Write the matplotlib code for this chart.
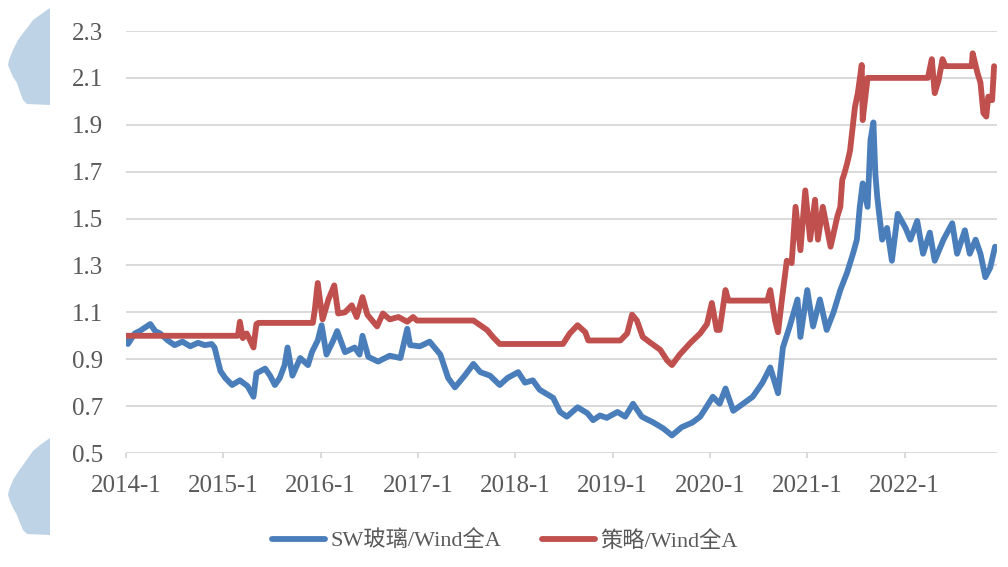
import matplotlib
matplotlib.use("Agg")
import matplotlib.pyplot as plt
from matplotlib.patches import Polygon

# ---- data ----
glass_t = [2014.00, 2014.02, 2014.09, 2014.14, 2014.25, 2014.30, 2014.35, 2014.43, 2014.50, 2014.58,
           2014.66, 2014.74, 2014.81, 2014.88, 2014.91, 2014.97, 2015.02, 2015.09, 2015.17, 2015.25,
           2015.31, 2015.34, 2015.43, 2015.48, 2015.53, 2015.58, 2015.63, 2015.66, 2015.71, 2015.79,
           2015.87, 2015.91, 2015.97, 2016.01, 2016.06, 2016.13, 2016.17, 2016.25, 2016.35, 2016.40,
           2016.43, 2016.49, 2016.59, 2016.71, 2016.82, 2016.89, 2016.92, 2017.02, 2017.12, 2017.23,
           2017.31, 2017.38, 2017.48, 2017.57, 2017.64, 2017.74, 2017.84, 2017.92, 2018.03, 2018.10,
           2018.18, 2018.25, 2018.39, 2018.46, 2018.53, 2018.64, 2018.74, 2018.80, 2018.87, 2018.94,
           2019.05, 2019.13, 2019.21, 2019.30, 2019.42, 2019.52, 2019.61, 2019.71, 2019.82, 2019.90,
           2019.97, 2020.03, 2020.10, 2020.16, 2020.24, 2020.34, 2020.44, 2020.54, 2020.62, 2020.70,
           2020.75, 2020.82, 2020.90, 2020.93, 2021.00, 2021.06, 2021.13, 2021.20, 2021.27, 2021.34,
           2021.41, 2021.47, 2021.51, 2021.54, 2021.57, 2021.62, 2021.65, 2021.68, 2021.70, 2021.72,
           2021.77, 2021.82, 2021.87, 2021.93, 2022.01, 2022.06, 2022.13, 2022.19, 2022.26, 2022.31,
           2022.40, 2022.49, 2022.54, 2022.62, 2022.67, 2022.73, 2022.78, 2022.83, 2022.88, 2022.93]
glass_v = [1.00, 0.965, 1.01, 1.02, 1.05, 1.02, 1.01, 0.98, 0.96, 0.975,
           0.955, 0.97, 0.96, 0.965, 0.95, 0.85, 0.82, 0.79, 0.81, 0.785,
           0.74, 0.84, 0.86, 0.83, 0.79, 0.82, 0.875, 0.95, 0.83, 0.905,
           0.875, 0.93, 0.98, 1.045, 0.92, 0.98, 1.02, 0.93, 0.95, 0.92,
           1.00, 0.91, 0.89, 0.915, 0.905, 1.03, 0.96, 0.955, 0.975, 0.92,
           0.82, 0.78, 0.83, 0.88, 0.845, 0.83, 0.79, 0.82, 0.845, 0.80,
           0.81, 0.77, 0.735, 0.675, 0.655, 0.695, 0.67, 0.64, 0.66, 0.65,
           0.675, 0.655, 0.71, 0.655, 0.63, 0.605, 0.575, 0.61, 0.63, 0.655,
           0.70, 0.74, 0.71, 0.775, 0.68, 0.71, 0.74, 0.80, 0.865, 0.755,
           0.95, 1.04, 1.155, 0.995, 1.195, 1.04, 1.155, 1.025, 1.10, 1.195,
           1.27, 1.35, 1.41, 1.55, 1.65, 1.55, 1.835, 1.91, 1.69, 1.59,
           1.41, 1.46, 1.32, 1.52, 1.46, 1.41, 1.49, 1.35, 1.44, 1.32,
           1.41, 1.48, 1.35, 1.45, 1.35, 1.41, 1.35, 1.25, 1.29, 1.38]

strat_t = [2014.00, 2015.02, 2015.15, 2015.17, 2015.20, 2015.24, 2015.27, 2015.31, 2015.34, 2015.36,
           2015.92, 2015.94, 2015.97, 2016.02, 2016.08, 2016.14, 2016.18, 2016.25, 2016.32, 2016.37,
           2016.43, 2016.48, 2016.58, 2016.64, 2016.71, 2016.80, 2016.89, 2016.95, 2016.99, 2017.57,
           2017.64, 2017.71, 2017.77, 2017.84, 2018.49, 2018.56, 2018.64, 2018.72, 2018.75, 2019.08,
           2019.15, 2019.20, 2019.25, 2019.31, 2019.39, 2019.49, 2019.56, 2019.61, 2019.69, 2019.80,
           2019.90, 2019.97, 2020.02, 2020.07, 2020.10, 2020.16, 2020.19, 2020.59, 2020.62, 2020.67,
           2020.70, 2020.74, 2020.79, 2020.84, 2020.88, 2020.93, 2020.98, 2021.03, 2021.08, 2021.11,
           2021.16, 2021.24, 2021.31, 2021.34, 2021.36, 2021.38, 2021.41, 2021.44, 2021.49, 2021.52,
           2021.56, 2021.57, 2021.62, 2022.24, 2022.28, 2022.31, 2022.35, 2022.39, 2022.42, 2022.69,
           2022.70, 2022.75, 2022.78, 2022.81, 2022.84, 2022.86, 2022.90, 2022.92]
strat_v = [1.00, 1.00, 1.00, 1.06, 0.99, 1.01, 0.985, 0.95, 1.05, 1.055,
           1.055, 1.11, 1.225, 1.07, 1.155, 1.215, 1.095, 1.10, 1.13, 1.08,
           1.165, 1.09, 1.04, 1.095, 1.07, 1.08, 1.06, 1.08, 1.065, 1.065,
           1.045, 1.025, 0.995, 0.965, 0.965, 1.01, 1.045, 1.015, 0.98, 0.98,
           1.01, 1.09, 1.065, 0.995, 0.97, 0.94, 0.895, 0.875, 0.92, 0.97,
           1.01, 1.05, 1.14, 1.025, 1.025, 1.195, 1.15, 1.15, 1.195, 1.065,
           1.015, 1.155, 1.32, 1.31, 1.55, 1.365, 1.62, 1.41, 1.58, 1.41,
           1.55, 1.38, 1.51, 1.55, 1.665, 1.69, 1.735, 1.79, 1.975, 2.035,
           2.155, 1.92, 2.10, 2.10, 2.18, 2.035, 2.09, 2.18, 2.15, 2.15,
           2.205, 2.12, 2.08, 1.95, 1.935, 2.02, 2.005, 2.15]

year_ticks = [2014, 2015, 2016, 2017, 2018, 2019, 2020, 2021, 2022]
year_labels = ["2014-1", "2015-1", "2016-1", "2017-1", "2018-1", "2019-1", "2020-1", "2021-1", "2022-1"]
y_ticks = [0.5, 0.7, 0.9, 1.1, 1.3, 1.5, 1.7, 1.9, 2.1, 2.3]
series_names = ["SW玻璃/Wind全A", "策略/Wind全A"]

# ---- figure ----
W, H = 1008, 567
fig = plt.figure(figsize=(W / 100, H / 100), dpi=100)
ax = fig.add_axes([126 / W, 1 - 453 / H, (997 - 126) / W, (453 - 31) / H])

serif = ["Liberation Serif", "Noto Sans CJK SC", "DejaVu Sans"]
txt_color = "#595959"

# decorative shapes on the left edge
def px_poly(pts):
    return [(x / W, 1 - y / H) for x, y in pts]

shape1 = [(50, 8), (47, 10), (40, 15), (33, 20), (28, 27), (23, 33), (18, 40), (13, 50), (9, 60),
          (8, 65), (10, 70), (13, 77), (17, 83), (20, 92), (23, 100), (27, 104), (50, 105)]
shape2 = [(50, 438), (47, 440), (40, 445), (33, 451), (28, 458), (23, 465), (18, 472), (13, 480),
          (9, 490), (8, 495), (10, 501), (13, 508), (17, 515), (20, 523), (23, 530), (27, 534), (50, 535)]
for s in (shape1, shape2):
    fig.patches.append(Polygon(px_poly(s), closed=True, transform=fig.transFigure,
                               facecolor="#bfd3e6", edgecolor="none"))

ax.plot(glass_t, glass_v, color="#4a7ebb", lw=4.2, solid_joinstyle="round",
        solid_capstyle="round", label=series_names[0], zorder=3)
ax.plot(strat_t, strat_v, color="#c0504d", lw=4.2, solid_joinstyle="round",
        solid_capstyle="round", label=series_names[1], zorder=4)

ax.set_xlim(2014.0, 2022.95)
ax.set_ylim(0.5, 2.3)
ax.set_yticks(y_ticks)
ax.set_yticklabels([f"{v:.1f}" for v in y_ticks])
ax.set_xticks(year_ticks)
ax.set_xticklabels(year_labels)

ax.grid(axis="y", color="#d9d9d9", lw=1.4, zorder=0)
ax.set_axisbelow(True)
for sp in ax.spines.values():
    sp.set_visible(False)

ax.tick_params(axis="y", length=0, pad=16.5, labelsize=18, labelcolor=txt_color)
ax.tick_params(axis="x", length=3.6, width=1.4, color="#d9d9d9", pad=12,
               labelsize=18, labelcolor=txt_color)
for lab in ax.get_xticklabels() + ax.get_yticklabels():
    lab.set_family(serif)

leg = fig.legend(loc="center", bbox_to_anchor=(0.501, 1 - 541 / H), ncol=2, frameon=False,
                 prop={"family": serif, "size": 16}, handlelength=2.4, handletextpad=0.25,
                 columnspacing=1.8)
for t in leg.get_texts():
    t.set_color(txt_color)

fig.savefig("out.png", dpi=100)
